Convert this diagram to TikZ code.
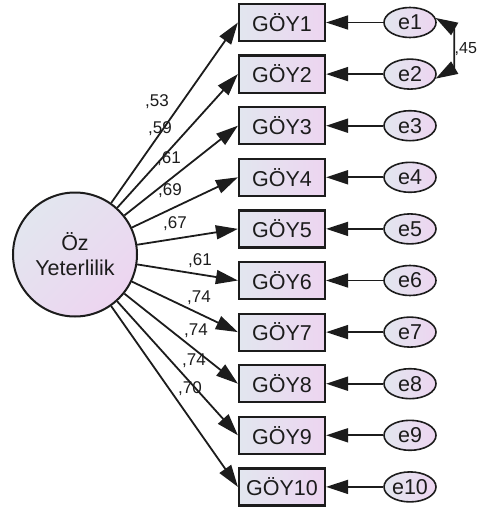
\documentclass[tikz,border=0pt]{standalone}
\usepackage{fontspec}
\setmainfont{Liberation Sans}
\usetikzlibrary{arrows.meta,shapes.geometric}
\definecolor{ink}{HTML}{1C1C1C}
\definecolor{gA}{HTML}{E2E6EF}
\definecolor{gB}{HTML}{EDD5F0}
\begin{document}
\begin{tikzpicture}[x=1pt,y=-1pt,
  obs/.style={draw=ink,line width=2.2pt,minimum width=86pt,minimum height=37pt,inner sep=0pt,
    left color=gA,right color=gB,font=\fontsize{21.5}{24}\selectfont,text=ink},
  err/.style={ellipse,draw=ink,line width=1.6pt,minimum width=52pt,minimum height=30pt,inner sep=0pt,
    left color=gA,right color=gB,font=\fontsize{21.5}{24}\selectfont,text=ink},
  lat/.style={circle,draw=ink,line width=2pt,minimum size=124pt,inner sep=0pt,
    left color=gA,right color=gB,shading angle=45,align=center,
    font=\fontsize{21.5}{25}\selectfont,text=ink},
  lab/.style={font=\fontsize{17}{20}\selectfont,text=ink,inner sep=0pt,anchor=base west},
  arr/.style={-{Triangle[length=22pt,width=14pt]},line width=1.8pt,draw=ink},
  cov/.style={{Triangle[length=22pt,width=14pt]}-{Triangle[length=22pt,width=14pt]},line width=1.8pt,draw=ink}
]
\useasboundingbox (0,0) rectangle (478,511);
\node[lat] (F) at (75,254.5) {Öz\\Yeterlilik};
\foreach \i in {1,...,10} {
  \pgfmathsetmacro\yy{22.5+51.6*(\i-1)}
  \node[obs] (G\i) at (282,\yy) {GÖY\i};
  \node[err] (e\i) at (410,\yy) {e\i};
  \draw[arr] (e\i) -- (G\i);
  \draw[arr] (F) -- (G\i.west);
}
\draw[cov] (e1.10) to[out=-30,in=30,looseness=0.9] (e2.-10);
\node[lab,font=\fontsize{16}{19}\selectfont] (c12) at (454.5,54) {,45};
\node[lab] (l1) at (145,106) {,53};
\node[lab] (l2) at (148,133) {,59};
\node[lab] (l3) at (157,163) {,61};
\node[lab] (l4) at (158,195) {,69};
\node[lab] (l5) at (163,228) {,67};
\node[lab] (l6) at (188,265) {,61};
\node[lab] (l7) at (187,302) {,74};
\node[lab] (l8) at (184,335) {,74};
\node[lab] (l9) at (182,365) {,74};
\node[lab] (l10) at (178,393) {,70};
\end{tikzpicture}
\end{document}
